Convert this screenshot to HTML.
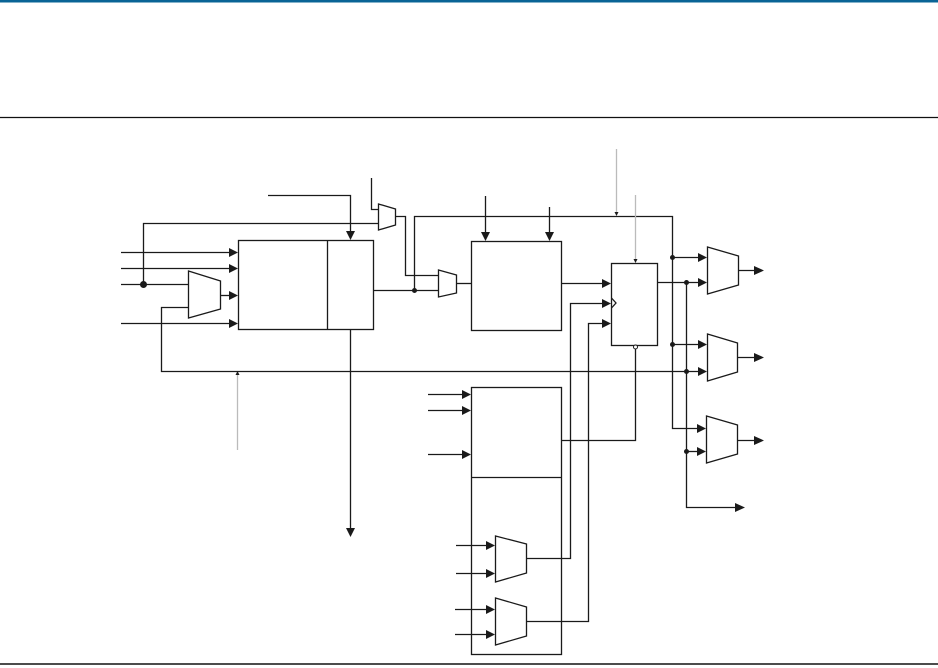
<!DOCTYPE html>
<html><head><meta charset="utf-8"><style>
html,body{margin:0;padding:0;background:#fff;}
svg{display:block;}
</style></head><body>
<svg width="938" height="668" viewBox="0 0 938 668" xmlns="http://www.w3.org/2000/svg">
<rect x="0" y="0" width="938" height="2.5" fill="#0a6496"/>
<line x1="0" y1="117.5" x2="938" y2="117.5" stroke="#111" stroke-width="1.3"/>
<line x1="0" y1="664" x2="938" y2="664" stroke="#111" stroke-width="1.6"/>
<g fill="none" stroke="#1a1a1a" stroke-width="1.3">
<!-- big box 1 -->
<rect x="238.5" y="240.5" width="135" height="89"/>
<line x1="327.5" y1="240" x2="327.5" y2="330"/>
<!-- box 2 -->
<rect x="471.5" y="241.5" width="90" height="89"/>
<!-- FF -->
<rect x="611.5" y="263.5" width="46" height="82"/>
<polyline points="611.5,298 616,303 611.5,308"/>
<!-- box 3 -->
<rect x="471.5" y="387.5" width="90" height="267"/>
<line x1="471" y1="477.5" x2="562" y2="477.5"/>
<!-- inputs to box1 -->
<line x1="121" y1="252.5" x2="230" y2="252.5"/>
<line x1="121" y1="268.5" x2="230" y2="268.5"/>
<line x1="121" y1="284.5" x2="188" y2="284.5"/>
<line x1="121" y1="323.5" x2="230" y2="323.5"/>
<line x1="220" y1="295.5" x2="230" y2="295.5"/>
<polyline points="143.5,284 143.5,223.5 378,223.5"/>
<polyline points="268,195.5 350.5,195.5 350.5,232"/>
<polyline points="188,307.5 161.5,307.5 161.5,371.5 698,371.5"/>
<polyline points="371.5,178 371.5,209.5 378,209.5"/>
<polyline points="395,216.5 405.5,216.5 405.5,275.5 438,275.5"/>
<line x1="373" y1="290.5" x2="438" y2="290.5"/>
<polyline points="414.5,290 414.5,216.5 672.5,216.5 672.5,428.5 698,428.5"/>
<line x1="350.5" y1="330" x2="350.5" y2="528"/>
<line x1="456" y1="283.5" x2="471" y2="283.5"/>
<line x1="485.5" y1="196" x2="485.5" y2="232"/>
<line x1="549.5" y1="207" x2="549.5" y2="232"/>
<line x1="561" y1="283.5" x2="602" y2="283.5"/>
<polyline points="526,558.5 570.5,558.5 570.5,303.5 602,303.5"/>
<polyline points="526,621.5 588.5,621.5 588.5,323.5 602,323.5"/>
<polyline points="561,440.5 635.5,440.5 635.5,349"/>
<polyline points="657,282.5 698,282.5"/>
<line x1="672" y1="257.5" x2="698" y2="257.5"/>
<line x1="672" y1="344.5" x2="698" y2="344.5"/>
<polyline points="686.5,282 686.5,507.5 736,507.5"/>
<line x1="686" y1="451.5" x2="698" y2="451.5"/>
<line x1="738" y1="270.5" x2="755" y2="270.5"/>
<line x1="737" y1="357.5" x2="755" y2="357.5"/>
<line x1="737" y1="440.5" x2="755" y2="440.5"/>
<!-- box3 inputs -->
<line x1="428" y1="394.5" x2="463" y2="394.5"/>
<line x1="428" y1="410.5" x2="463" y2="410.5"/>
<line x1="428" y1="454.5" x2="463" y2="454.5"/>
<line x1="456" y1="545.5" x2="487" y2="545.5"/>
<line x1="456" y1="573.5" x2="487" y2="573.5"/>
<line x1="455" y1="609.5" x2="487" y2="609.5"/>
<line x1="455" y1="634.5" x2="487" y2="634.5"/>
<!-- muxes -->
<polygon points="188.5,271 220.5,281 220.5,309 188.5,318"/>
<polygon points="378.5,204 395.5,209 395.5,225 378.5,230"/>
<polygon points="438.5,270 456.5,275 456.5,293 438.5,297"/>
<polygon points="707.5,247 738.5,256 738.5,285 707.5,294"/>
<polygon points="707.5,334 737.5,343 737.5,372 707.5,381"/>
<polygon points="706.5,416 737.5,425 737.5,454 706.5,463"/>
<polygon points="495.5,536 526.5,544 526.5,573 495.5,582"/>
<polygon points="495.5,598 526.5,607 526.5,636 495.5,645"/>
</g>
<g stroke="#bbb" stroke-width="1.3">
<line x1="237.5" y1="374" x2="237.5" y2="450"/>
<line x1="616.5" y1="149" x2="616.5" y2="214"/>
<line x1="635.5" y1="195" x2="635.5" y2="261"/>
</g>
<g fill="#1a1a1a">
<circle cx="143.5" cy="284.5" r="3.5"/>
<circle cx="414.5" cy="290.5" r="2.5"/>
<circle cx="672.5" cy="257.5" r="2.5"/>
<circle cx="672.5" cy="344.5" r="2.5"/>
<circle cx="686.5" cy="282.5" r="2.5"/>
<circle cx="686.5" cy="371.5" r="2.5"/>
<circle cx="686.5" cy="451.5" r="2.5"/>
<!-- right arrows -->
<polygon points="229,248 238,252.5 229,257"/>
<polygon points="229,264 238,268.5 229,273"/>
<polygon points="229,291 238,295.5 229,300"/>
<polygon points="229,319 238,323.5 229,328"/>
<polygon points="602,279 611,283.5 602,288"/>
<polygon points="602,299 611,303.5 602,308"/>
<polygon points="602,319 611,323.5 602,328"/>
<polygon points="698,253 707,257.5 698,262"/>
<polygon points="698,278 707,282.5 698,287"/>
<polygon points="698,340 707,344.5 698,349"/>
<polygon points="698,367 707,371.5 698,376"/>
<polygon points="697,424 706,428.5 697,433"/>
<polygon points="697,447 706,451.5 697,456"/>
<polygon points="754,266 764,270.5 754,275"/>
<polygon points="754,353 764,357.5 754,362"/>
<polygon points="754,436 764,440.5 754,445"/>
<polygon points="735,503 745,507.5 735,512"/>
<polygon points="462,390 471,394.5 462,399"/>
<polygon points="462,406 471,410.5 462,415"/>
<polygon points="462,450 471,454.5 462,459"/>
<polygon points="486,541 495,545.5 486,550"/>
<polygon points="486,569 495,573.5 486,578"/>
<polygon points="486,605 495,609.5 486,614"/>
<polygon points="486,630 495,634.5 486,639"/>
<!-- down arrows -->
<polygon points="346,231 350.5,240 355,231"/>
<polygon points="481,232 485.5,241 490,232"/>
<polygon points="545,232 549.5,241 554,232"/>
<polygon points="346,528 350.5,537 355,528"/>
<polygon points="614.5,212 616.5,216 618.5,212"/>
<polygon points="633.5,259 635.5,263 637.5,259"/>
<polygon points="235.5,375 237.5,371 239.5,375"/>
</g>
<circle cx="635.5" cy="347" r="2" fill="#fff" stroke="#1a1a1a" stroke-width="1"/>
</svg>
</body></html>
